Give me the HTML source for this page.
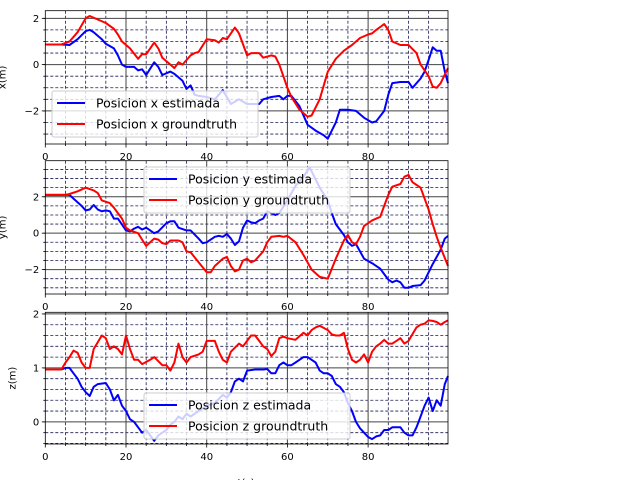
<!DOCTYPE html>
<html><head><meta charset="utf-8"><style>
html,body{margin:0;padding:0;background:#fff;}
svg{display:block;font-family:"DejaVu Sans","Liberation Sans",sans-serif;}
</style></head><body>
<svg id="chart" width="640" height="480" viewBox="0 0 640 480" xmlns="http://www.w3.org/2000/svg"></svg>
<script>
// ---------- data ----------
const tXg=[0,4,6,8,10,11,13,15,17,18,19,21,23,24,25,26,27,28,29,31,32,33,34,36,37,38,40,42,43,44,45,47,48,50,51,52,53,54,56,57,58,60,61,63,65,66,68,70,72,74,76,77,78,80,81,82,84,85,86,88,90,92,93,95,96,97,98,99.8];
const xGround=[0.87,0.87,1.0,1.4,2.0,2.1,1.95,1.8,1.55,1.3,1.0,0.7,0.25,0.45,0.45,0.7,0.95,0.7,0.3,0.0,-0.15,0.1,0.0,0.4,0.5,0.55,1.1,1.05,0.95,1.15,1.1,1.6,1.35,0.4,0.5,0.5,0.5,0.3,0.4,0.35,0.0,-1.0,-1.4,-1.95,-2.25,-2.2,-1.5,-0.3,0.25,0.6,0.85,1.0,1.15,1.3,1.35,1.5,1.75,1.5,1.0,0.85,0.85,0.5,0.0,-0.5,-0.95,-1.0,-0.8,-0.15];
const tXe=[0,4,6,8,10,11,12,14,15,17,18,19,20,22,23,24,25,27,28,29,31,32,34,35,36,37,38,40,42,43,44,46,48,50,53,54,56,58,59,60,61,63,65,67,69,70,72,73,75,77,79,81,82,84,85,86,88,90,91,93,94,95,96,97,98,99,99.8];
const xEstimated=[0.87,0.87,0.85,1.1,1.45,1.5,1.4,1.1,0.9,0.7,0.4,0.0,-0.1,-0.1,-0.25,-0.2,-0.45,0.1,-0.1,-0.45,-0.3,-0.4,-0.7,-1.05,-0.9,-1.3,-1.35,-1.4,-1.5,-1.3,-1.1,-1.7,-1.5,-1.7,-1.7,-1.5,-1.4,-1.35,-1.5,-1.35,-1.35,-1.8,-2.6,-2.85,-3.05,-3.2,-2.5,-1.95,-1.95,-2.0,-2.3,-2.5,-2.45,-2.0,-1.3,-0.8,-0.75,-0.75,-1.0,-0.6,-0.3,0.2,0.75,0.6,0.6,-0.3,-0.8];

const tYg=[0,5,6,8,10,12,13,14,16,17,18,19,20,21,23,24,25,26,27,28,29,30,31,33,34,35,36,38,40,41,42,44,45,46,47,48,49,50,51,52,54,55,56,58,59,60,62,64,66,68,70,72,74,75,76,77,78,79,81,83,84,85,86,88,89,90,91,93,95,96,97,98,99.8];
const yGround=[2.1,2.1,2.15,2.3,2.5,2.35,2.2,1.8,1.65,1.4,1.1,0.8,0.3,0.15,0.0,-0.35,-0.7,-0.5,-0.3,-0.35,-0.55,-0.6,-0.4,-0.4,-0.5,-1.0,-1.05,-1.6,-2.15,-2.15,-1.8,-1.4,-1.3,-1.8,-2.1,-2.0,-1.5,-1.4,-1.6,-1.5,-1.0,-0.5,-0.2,-0.15,-0.2,-0.15,-0.5,-1.2,-2.0,-2.4,-2.5,-1.4,-0.4,-0.1,-0.5,-0.6,-0.2,0.4,0.7,0.9,1.5,2.1,2.55,2.7,3.1,3.2,2.8,2.5,1.3,0.5,-0.2,-0.8,-1.8];
const tYe=[0,6,7,9,10,11,12,13,14,15,16,17,18,20,21,22,23,24,25,27,28,30,31,32,33,35,36,38,39,40,42,43,44,45,46,47,48,49,50,51,52,53,54,55,57,58,60,62,64,65.5,66,68,70,71,72,74,75,76,77,78,79,81,83,85,86,87,88,89,90,91,93,94,96,97,98,99,99.8];
const yEstimated=[2.1,2.1,1.9,1.5,1.25,1.3,1.55,1.3,1.2,1.25,1.2,0.8,0.8,0.15,0.1,0.25,0.35,0.2,0.3,0.0,0.1,0.55,0.65,0.65,0.3,0.15,0.15,-0.3,-0.55,-0.5,-0.2,-0.15,-0.2,-0.05,-0.3,-0.65,-0.45,0.3,0.7,0.6,0.55,0.7,0.8,1.2,1.0,1.1,1.8,2.6,3.1,3.6,3.4,2.5,1.8,1.1,0.5,-0.1,-0.5,-0.7,-0.6,-1.0,-1.4,-1.65,-1.95,-2.55,-2.7,-2.6,-2.7,-3.0,-3.0,-2.9,-2.85,-2.6,-1.7,-1.3,-0.9,-0.3,-0.15];

const tZg=[0,4,5,6,7,8,9,10,11,12,14,15,16,17,18,19,20,21,22,23,24,26,27,29,30,31,32,33,34,35,36,38,39,40,42,43,44,45,46,48,49,51,52,53,54,55,56,57,58,59,60,62,64,65,66,67,68,70,71,72,73,74,75,76,77,78,79,80,81,82,83,84,85,86,87,88,89,90,92,93,94,95,96,97,98,99,99.8];
const zGround=[0.97,0.97,1.1,1.2,1.32,1.28,1.1,1.0,1.0,1.35,1.6,1.55,1.35,1.4,1.35,1.25,1.6,1.35,1.15,1.15,1.07,1.15,1.2,1.05,1.05,0.95,1.1,1.45,1.2,1.1,1.2,1.25,1.3,1.5,1.5,1.3,1.15,1.1,1.3,1.45,1.4,1.6,1.6,1.5,1.4,1.35,1.22,1.3,1.55,1.58,1.55,1.52,1.65,1.6,1.7,1.75,1.78,1.7,1.62,1.6,1.6,1.65,1.35,1.15,1.1,1.15,1.25,1.1,1.3,1.4,1.45,1.52,1.45,1.45,1.5,1.55,1.45,1.5,1.75,1.8,1.82,1.88,1.87,1.85,1.8,1.85,1.88];
const tZe=[0,4,5,6,7,8,9,10,11,12,13,15,16,17,18,19,20,21,22,23,24,25,26,27,28,29,30,31,32,33,34,35,36,38,40,42,44,45,46,47,48,49,50,52,54,55,56,57,58,59,60,61,62,63,64,65,66,67,68,69,70,71,72,73,74,75,76,77,78,79,80,81,82,83,84,85,86,88,89,90,91,92,93,94,95,96,97,98,99,99.8];
const zEstimated=[0.97,0.97,1.0,1.0,0.9,0.8,0.65,0.55,0.48,0.65,0.7,0.72,0.6,0.4,0.5,0.3,0.2,0.05,0.0,-0.1,-0.2,-0.15,-0.25,-0.35,-0.25,-0.2,-0.15,-0.05,0.0,0.1,0.05,0.15,0.1,0.2,0.3,0.35,0.5,0.45,0.55,0.75,0.8,0.75,0.95,0.97,0.97,0.98,0.9,0.9,1.05,1.1,1.05,1.05,1.1,1.15,1.2,1.2,1.15,1.1,0.95,0.9,0.9,0.85,0.7,0.65,0.55,0.35,0.2,0.0,-0.12,-0.2,-0.28,-0.32,-0.27,-0.25,-0.15,-0.15,-0.1,-0.1,-0.2,-0.25,-0.25,-0.1,0.1,0.3,0.45,0.2,0.4,0.3,0.7,0.85];

const xTickLabels=[0,20,40,60,80];
const xTickLabels1=["0","20","40","60","80"];
const yTicks1=[2,0,-2], yTicks2=[2,0,-2], yTicks3=[2,1,0];

// ---------- drawing ----------
const NS="http://www.w3.org/2000/svg";
const svg=document.getElementById('chart');
function el(tag,attrs,parent){const e=document.createElementNS(NS,tag);for(const k in attrs)e.setAttribute(k,attrs[k]);(parent||svg).appendChild(e);return e;}
const X0=45.3,X1=448,TMIN=0,TMAX=99.8;
function sx(t){return X0+(t-TMIN)/(TMAX-TMIN)*(X1-X0);}

const panels=[
 {name:'x',top:10.7,bot:144,ymin:-3.43,ymax:2.33,minor:0.5,major:yTicks1,
  series:[[tXe,xEstimated,'#0000ff','Posicion x estimada'],[tXg,xGround,'#ff0000','Posicion x groundtruth']],
  legend:{x:52,y:91},label:'x(m)',lx:3},
 {name:'y',top:160.7,bot:294,ymin:-3.34,ymax:3.98,minor:0.5,major:yTicks2,
  series:[[tYe,yEstimated,'#0000ff','Posicion y estimada'],[tYg,yGround,'#ff0000','Posicion y groundtruth']],
  legend:{x:144,y:167},label:'y(m)',lx:3},
 {name:'z',top:312.3,bot:444,ymin:-0.41,ymax:2.03,minor:0.2,major:yTicks3,
  series:[[tZe,zEstimated,'#0000ff','Posicion z estimada'],[tZg,zGround,'#ff0000','Posicion z groundtruth']],
  legend:{x:144,y:393},label:'z(m)',lx:13}
];

panels.forEach((p,pi)=>{
  const g=el('g',{});
  
  
  const sy=v=>p.bot-(v-p.ymin)/(p.ymax-p.ymin)*(p.bot-p.top);
  el('rect',{x:X0,y:p.top,width:X1-X0,height:p.bot-p.top,fill:'#fff'},g);
  // minor grid
  for(let t=5;t<TMAX;t+=5){ if(t%20===0)continue;
    el('line',{x1:sx(t),x2:sx(t),y1:p.top,y2:p.bot,stroke:'#1a1a50','stroke-width':0.8,'stroke-dasharray':'3,2'},g);}
  const k0=Math.ceil(p.ymin/p.minor),k1=Math.floor(p.ymax/p.minor);
  for(let k=k0;k<=k1;k++){const v=+(k*p.minor).toFixed(3); if(Math.abs(v-Math.round(v))<1e-6 && (p.name==='z'||Math.round(v)%2===0))continue;
    el('line',{x1:X0,x2:X1,y1:sy(v),y2:sy(v),stroke:'#1a1a50','stroke-width':0.8,'stroke-dasharray':'3,2'},g);}
  // major grid
  xTickLabels.forEach(t=>{ if(t>0) el('line',{x1:sx(t),x2:sx(t),y1:p.top,y2:p.bot,stroke:'#444','stroke-width':1},g);});
  p.major.forEach(v=>el('line',{x1:X0,x2:X1,y1:sy(v),y2:sy(v),stroke:'#444','stroke-width':1},g));
  // series
  p.series.forEach(s=>{
    const d=s[0].map((t,i)=>(i?'L':'M')+sx(t).toFixed(1)+','+sy(s[1][i]).toFixed(1)).join('');
    const path=el('path',{d:d,fill:'none',stroke:s[2],'stroke-width':2,'stroke-linejoin':'round'},g);
    
    
  });
  // frame
  el('rect',{x:X0,y:p.top,width:X1-X0,height:p.bot-p.top,fill:'none',stroke:'#000','stroke-width':0.8},g);
  // ticks
  for(let t=5;t<TMAX;t+=5){const maj=t%20===0;el('line',{x1:sx(t),x2:sx(t),y1:p.bot,y2:p.bot+(maj?3.5:2),stroke:'#000','stroke-width':0.8},g);}
  el('line',{x1:sx(0),x2:sx(0),y1:p.bot,y2:p.bot+3.5,stroke:'#000','stroke-width':0.8},g);
  for(let k=k0;k<=k1;k++){const v=k*p.minor;el('line',{x1:X0,x2:X0-2,y1:sy(v),y2:sy(v),stroke:'#000','stroke-width':0.8},g);}
  p.major.forEach(v=>{el('line',{x1:X0,x2:X0-3.5,y1:sy(v),y2:sy(v),stroke:'#000','stroke-width':0.8},g);
    const tx=el('text',{x:X0-6,y:sy(v)+3.5,'font-size':10,'text-anchor':'end',fill:'#000'},g);
    
    
    tx.textContent=v<0?'\u2212'+(-v):String(v);});
  xTickLabels.forEach((t,i)=>{const tx=el('text',{x:sx(t),y:p.bot+16,'font-size':10,'text-anchor':'middle',fill:'#000'},g);
    
    
    tx.textContent=xTickLabels1[i];});
  // y label
  const cy=(p.top+p.bot)/2;
  const yl=el('text',{x:p.lx,y:cy,'font-size':10,'text-anchor':'middle','dominant-baseline':'central',transform:`rotate(-90 ${p.lx} ${cy})`,fill:'#000'},g);
  
  
  yl.textContent=p.label;
  // legend
  const lg=el('g',{},g);
  
  
  el('rect',{x:p.legend.x,y:p.legend.y,width:206,height:46,rx:2,fill:'#fff','fill-opacity':0.8,stroke:'#ccc','stroke-width':1},lg);
  p.series.forEach((s,i)=>{const yy=p.legend.y+12+i*21;
    el('line',{x1:p.legend.x+5,x2:p.legend.x+33,y1:yy,y2:yy,stroke:s[2],'stroke-width':2},lg);
    const tx=el('text',{x:p.legend.x+44,y:yy+4.5,'font-size':12.5,fill:'#000'},lg);
    
    
    tx.textContent=s[3];});
});
const xt=el('text',{x:246,y:486,'font-size':10,'text-anchor':'middle',fill:'#000'});


xt.textContent='t(s)';
</script>
</body></html>
